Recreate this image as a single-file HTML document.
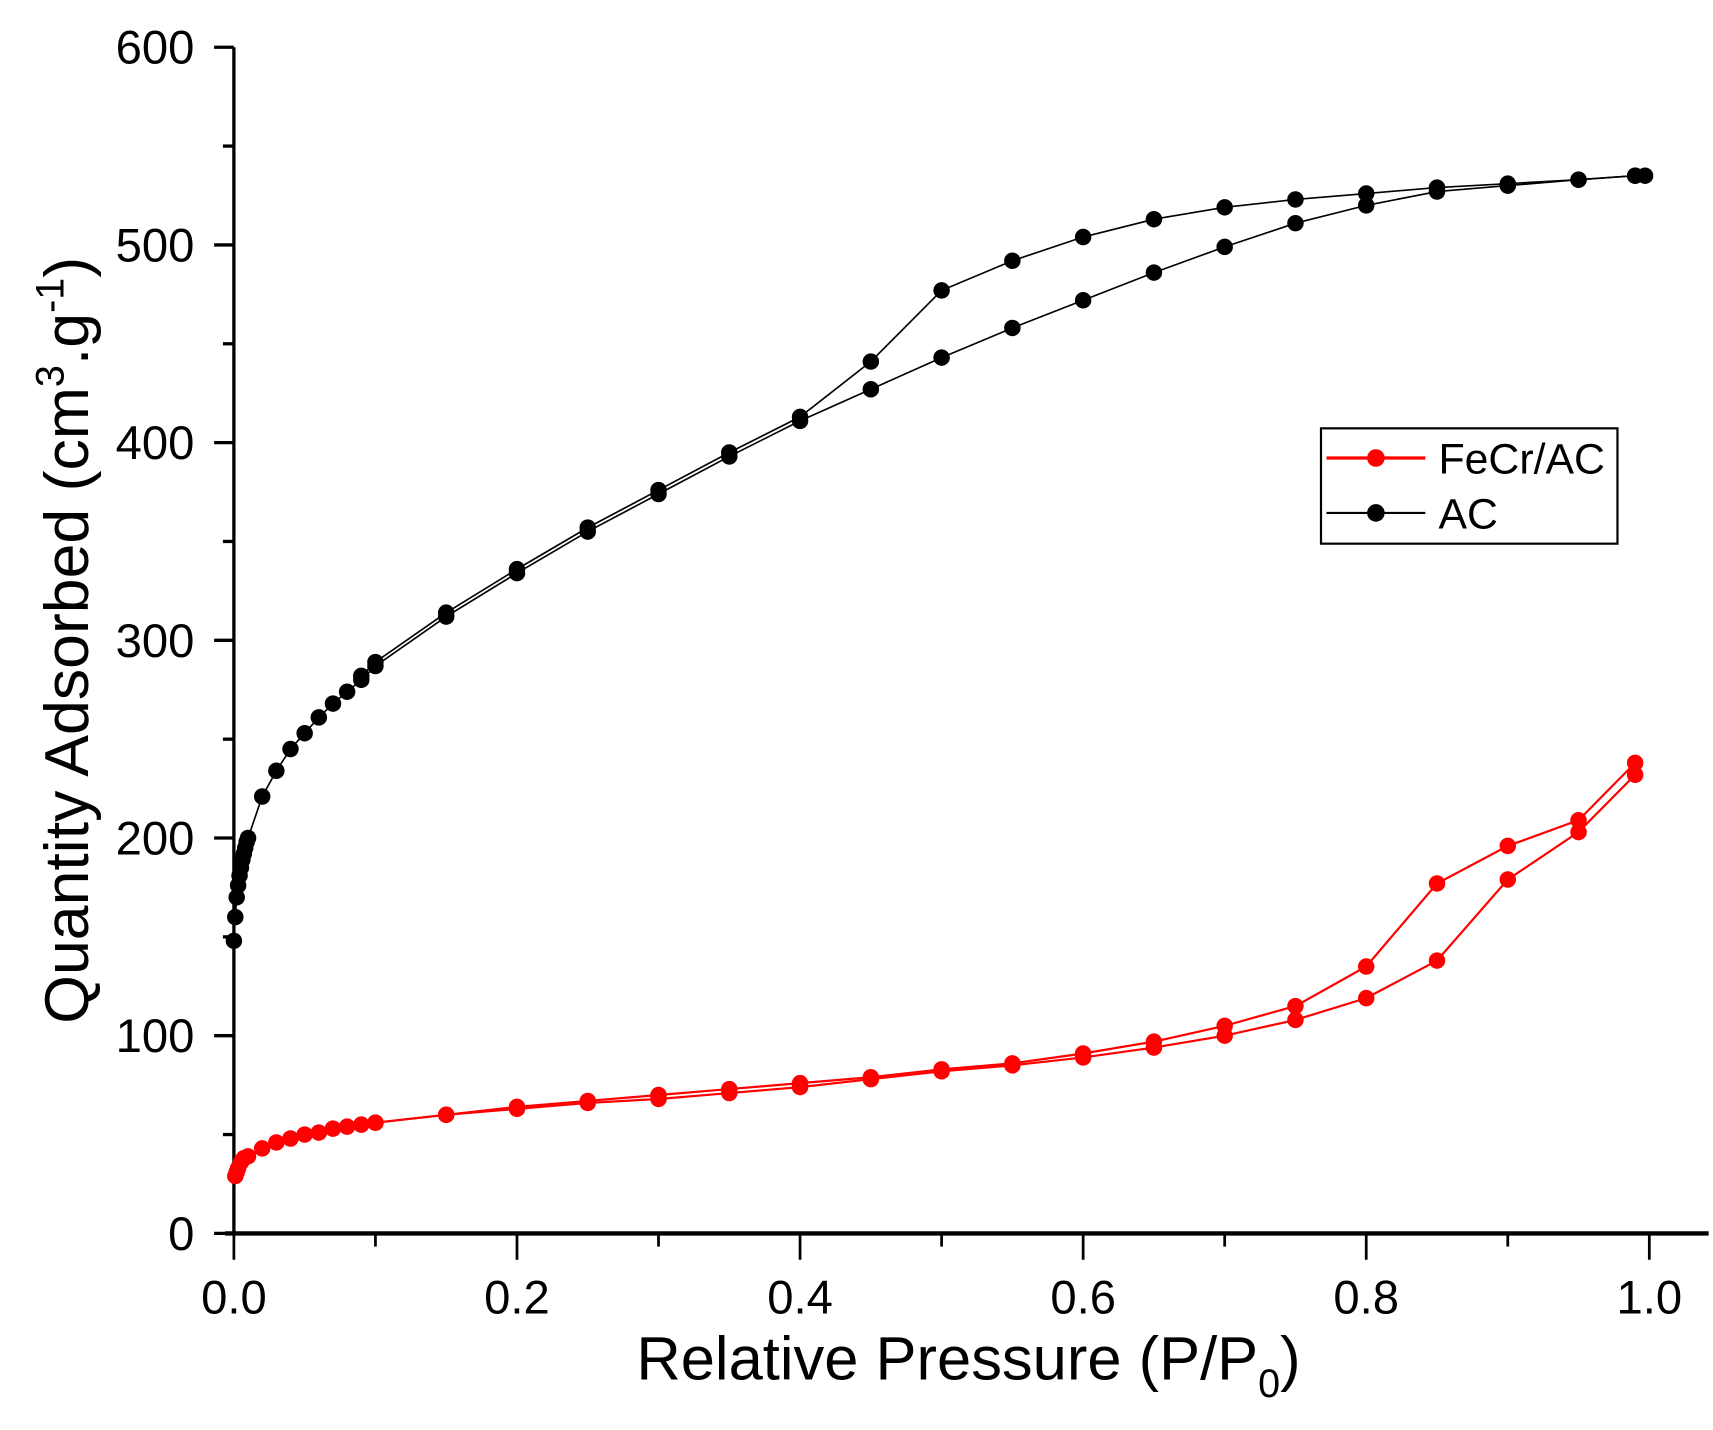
<!DOCTYPE html>
<html><head><meta charset="utf-8"><style>
html,body{margin:0;padding:0;background:#fff;}
svg{display:block;font-family:"Liberation Sans",Arial,sans-serif;}
</style></head><body>
<svg id="chart" width="1713" height="1430" viewBox="0 0 1560 1302" preserveAspectRatio="none" xmlns="http://www.w3.org/2000/svg">
<g id="axes"></g>
<g id="series"></g>
<text x="882" y="1256" font-size="56" text-anchor="middle">Relative Pressure (P/P<tspan font-size="36" dy="16">0</tspan><tspan dy="-16">)</tspan></text>
<text transform="translate(80,583) rotate(-90)" font-size="57" text-anchor="middle">Quantity Adsorbed (cm<tspan font-size="36" dy="-22">3</tspan><tspan dy="22">.g</tspan><tspan font-size="36" dy="-22">-1</tspan><tspan dy="22">)</tspan></text>
<g>
<rect x="1203" y="390" width="270" height="105" fill="none" stroke="#000" stroke-width="2"/>
<line x1="1208" y1="417" x2="1298" y2="417" stroke="#f00" stroke-width="3"/>
<circle cx="1253" cy="417" r="8" fill="#f00"/>
<text x="1310" y="431" font-size="39">FeCr/AC</text>
<line x1="1208" y1="467" x2="1298" y2="467" stroke="#000" stroke-width="2"/>
<circle cx="1253" cy="467" r="8" fill="#000"/>
<text x="1310" y="481" font-size="39">AC</text>
</g>
</svg>
<script>
const acAdsX=[0,0.001,0.002,0.003,0.004,0.005,0.006,0.007,0.008,0.009,0.01,0.02,0.03,0.04,0.05,0.06,0.07,0.08,0.09,0.1,0.15,0.2,0.25,0.3,0.35,0.4,0.45,0.5,0.55,0.6,0.65,0.7,0.75,0.8,0.85,0.9,0.95,0.99];
const acAdsY=[148,160,170,176,181,185,189,192,195,198,200,221,234,245,253,261,268,274,280,287,312,334,355,374,393,411,427,443,458,472,486,499,511,520,527,530,533,535];
const acDesX=[0.997,0.99,0.95,0.9,0.85,0.8,0.75,0.7,0.65,0.6,0.55,0.5,0.45,0.4,0.35,0.3,0.25,0.2,0.15,0.1,0.09];
const acDesY=[535,535,533,531,529,526,523,519,513,504,492,477,441,413,395,376,357,336,314,289,282];
const feAdsX=[0.001,0.002,0.003,0.005,0.007,0.01,0.02,0.03,0.04,0.05,0.06,0.07,0.08,0.09,0.1,0.15,0.2,0.25,0.3,0.35,0.4,0.45,0.5,0.55,0.6,0.65,0.7,0.75,0.8,0.85,0.9,0.95,0.99];
const feAdsY=[29,31,33,36,38,39,43,46,48,50,51,53,54,55,56,60,63,66,68,71,74,78,82,85,89,94,100,108,119,138,179,203,232];
const feDesX=[0.99,0.95,0.9,0.85,0.8,0.75,0.7,0.65,0.6,0.55,0.5,0.45,0.4,0.35,0.3,0.25,0.2,0.15,0.1];
const feDesY=[238,209,196,177,135,115,105,97,91,86,83,79,76,73,70,67,64,60,56];
const xTicks=["0.0","0.2","0.4","0.6","0.8","1.0"];
const yTicks=["0","100","200","300","400","500","600"];

const NS="http://www.w3.org/2000/svg";
const X0=213,X1=1502,Y0=1123,Y1=43;
function sx(v){return X0+v*(X1-X0);}
function sy(v){return Y0-v/600*(Y0-Y1);}
function mk(tag,attrs,parent){const e=document.createElementNS(NS,tag);for(const k in attrs)e.setAttribute(k,attrs[k]);parent.appendChild(e);return e;}
const axes=document.getElementById('axes');
let l=mk('line',{x1:X0,y1:Y1,x2:X0,y2:Y0+2,stroke:'#000','stroke-width':3},axes);


l=mk('line',{x1:X0-8,y1:Y0,x2:1556,y2:Y0,stroke:'#000','stroke-width':4},axes);


for(let i=0;i<=12;i++){const v=i*50;const maj=i%2===0;
 mk('line',{x1:X0-(maj?18:10),y1:sy(v),x2:X0,y2:sy(v),stroke:'#000','stroke-width':3},axes);}
yTicks.forEach(t=>{const e=mk('text',{x:177,y:sy(+t)+15,'font-size':43,'text-anchor':'end'},axes);e.textContent=t;
 
 });
for(let i=0;i<=10;i++){const v=i/10;const maj=i%2===0;
 mk('line',{x1:sx(v),y1:Y0,x2:sx(v),y2:Y0+(maj?24:12),stroke:'#000','stroke-width':2.5},axes);}
xTicks.forEach(t=>{const e=mk('text',{x:sx(+t),y:1196,'font-size':43,'text-anchor':'middle'},axes);e.textContent=t;
 
 });
const ser=document.getElementById('series');
function draw(xs,ys,color,w,name){
 const p=mk('polyline',{points:xs.map((x,i)=>sx(x)+','+sy(ys[i])).join(' '),fill:'none',stroke:color,'stroke-width':w},ser);
 
 
 xs.forEach((x,i)=>{const c=mk('circle',{cx:sx(x),cy:sy(ys[i]),r:7.5,fill:color},ser);
  
  });
}
draw(acAdsX,acAdsY,'#000',1.5,'ac-adsorption');
draw(acDesX,acDesY,'#000',1.5,'ac-desorption');
draw(feAdsX,feAdsY,'#f00',2,'fecr-adsorption');
draw(feDesX,feDesY,'#f00',2,'fecr-desorption');
</script>
</body></html>
